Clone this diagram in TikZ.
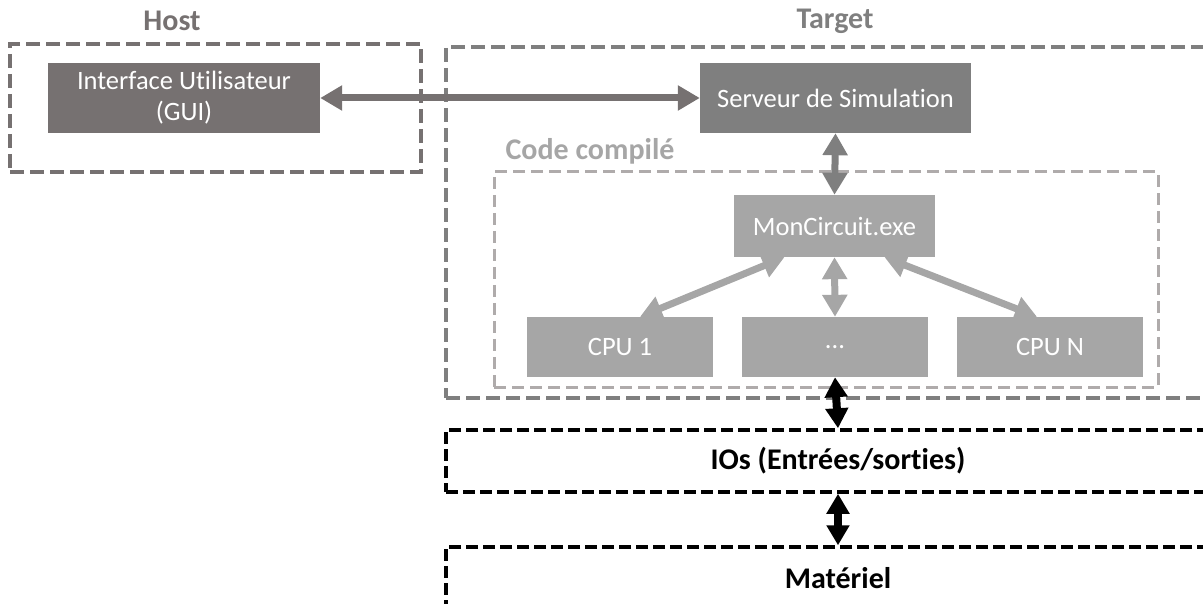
\documentclass[tikz,border=0pt]{standalone}
\usepackage{fontspec}
\setmainfont{Carlito}[Ligatures={NoCommon,NoRare,NoContextual}]
\usetikzlibrary{arrows.meta}
\definecolor{darkgr}{HTML}{767171}
\definecolor{midgr}{HTML}{7F7F7F}
\definecolor{lightgr}{HTML}{A6A6A6}
\definecolor{palegr}{HTML}{AFABAB}
\begin{document}
\begin{tikzpicture}[x=1pt, y=-1pt,
    block/.style={rectangle, inner sep=0pt, text=white, align=center, font=\fontsize{26.5}{31}\selectfont},
    frame/.style={rectangle, draw, line width=3.5pt, dash pattern=on 14pt off 6pt, inner sep=0pt, font=\fontsize{30}{36}\selectfont\bfseries},
    title/.style={font=\fontsize{30}{36}\selectfont\bfseries, inner sep=0pt},
    link/.style={line width=7pt, {Triangle[length=22pt, width=24pt]}-{Triangle[length=22pt, width=24pt]}},
    hwlink/.style={line width=8pt, black, {Triangle[length=20pt, width=22pt]}-{Triangle[length=20pt, width=22pt]}}]
  \useasboundingbox (0,0) rectangle (1203,604);
  % Frames
  \node[frame, draw=darkgr, minimum width=411pt, minimum height=128pt] (host) at (215.5,108) {};
  \node[frame, draw=midgr, minimum width=784pt, minimum height=351pt] (target) at (838,222.5) {};
  \node[frame, draw=palegr, line width=3pt, dash pattern=on 12pt off 6pt, minimum width=664pt, minimum height=215pt] (code) at (826,279.5) {};
  \node[frame, draw=black, dash pattern=on 12pt off 5pt, minimum width=784pt, minimum height=62pt] (io) at (838,461) {IOs (Entrées/sorties)};
  \node[frame, draw=black, dash pattern=on 12pt off 5pt, minimum width=784pt, minimum height=62pt] (hw) at (838,578) {Matériel};
  % Frame titles
  \node[title, text=darkgr] (hostlbl) at (172,21) {Host};
  \node[title, text=midgr] (targetlbl) at (835,21) {Target};
  \node[title, text=lightgr] (codelbl) at (590,151) {Code compilé};
  % Blocks
  \node[block, fill=darkgr, minimum width=272pt, minimum height=70pt] (gui) at (184,98) {Interface Utilisateur\\(GUI)};
  \node[block, fill=midgr, minimum width=271pt, minimum height=70pt] (srv) at (835.5,98) {Serveur de Simulation};
  \node[block, fill=lightgr, minimum width=201pt, minimum height=62pt] (mon) at (834.5,226) {MonCircuit.exe};
  \node[block, fill=lightgr, minimum width=186pt, minimum height=60pt] (cpu1) at (620,347) {CPU 1};
  \node[block, fill=lightgr, minimum width=186pt, minimum height=60pt] (cpum) at (835,347) {...};
  \node[block, fill=lightgr, minimum width=186pt, minimum height=60pt] (cpun) at (1050,347) {CPU N};
  % Links
  \draw[link, darkgr] (gui.east) -- (srv.west);
  \draw[link, midgr] (srv.south) -- (mon.north);
  \draw[link, lightgr] ([xshift=-50pt]mon.south) -- ([xshift=20pt]cpu1.north);
  \draw[link, lightgr] (mon.south) -- (cpum.north);
  \draw[link, lightgr] ([xshift=50pt]mon.south) -- ([xshift=-13pt]cpun.north);
  \draw[hwlink] (cpum.south) -- (io.north);
  \draw[hwlink] (io.south) -- (hw.north);
\end{tikzpicture}
\end{document}
